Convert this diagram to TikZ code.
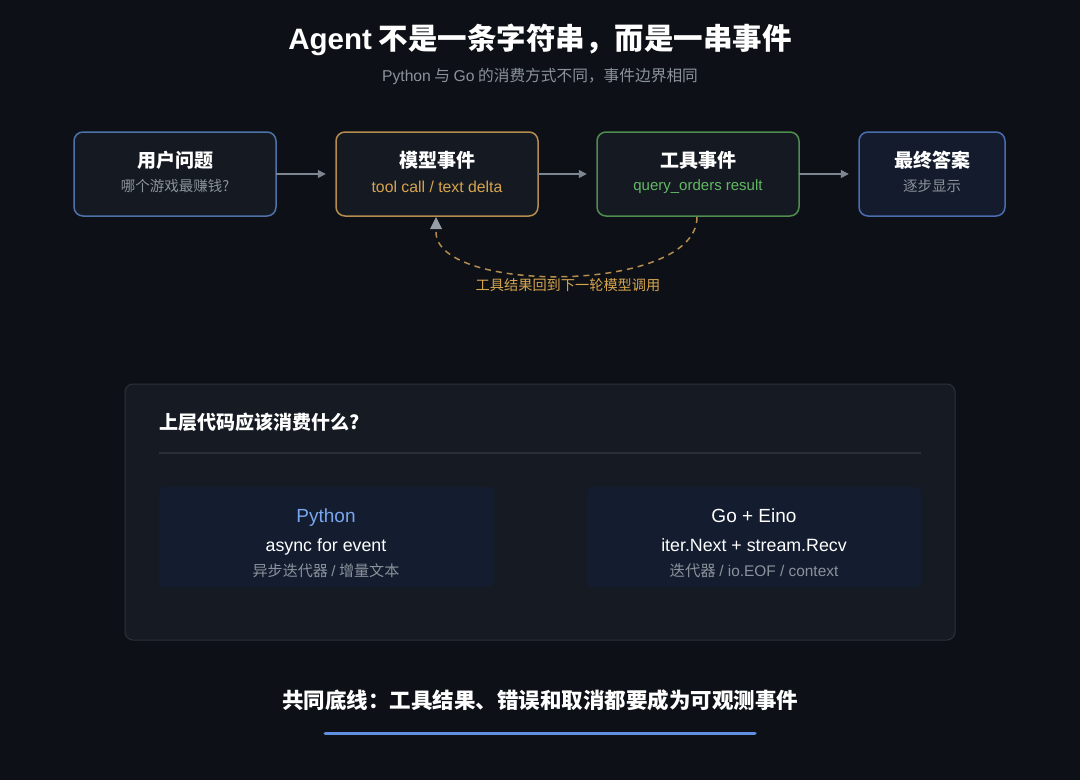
\documentclass[tikz,border=0pt]{standalone}
\usepackage{fontspec}
\setmainfont{Noto Sans CJK SC}
\newfontfamily\lat{Liberation Sans}
\usetikzlibrary{arrows.meta}
\definecolor{bg}{HTML}{0D1117}
\definecolor{boxfill}{HTML}{151A22}
\definecolor{panelfill}{HTML}{161B23}
\definecolor{panelline}{HTML}{2B313A}
\definecolor{subfill}{HTML}{131D2F}
\definecolor{ublue}{HTML}{4E72A8}
\definecolor{gold}{HTML}{B48D4E}
\definecolor{goldtxt}{HTML}{D6A44E}
\definecolor{green}{HTML}{4F8D4F}
\definecolor{greentxt}{HTML}{63B865}
\definecolor{fblue}{HTML}{4A6CB0}
\definecolor{fbluefill}{HTML}{131B2C}
\definecolor{graytxt}{HTML}{8B929B}
\definecolor{arrowgray}{HTML}{7D8590}
\definecolor{pyblue}{HTML}{79A6EE}
\definecolor{linegblue}{HTML}{5E8FE0}
\definecolor{sep}{HTML}{2A2F37}
\tikzset{
  x=1pt, y=-1pt,
  evbox/.style={draw, line width=1.5pt, rounded corners=9pt, fill=boxfill},
  ttl/.style={text=white, font=\fontsize{19}{21}\selectfont\bfseries},
  sub/.style={font=\fontsize{14.5}{16}\selectfont},
  flow/.style={draw=arrowgray, line width=1.3pt, -{Triangle[length=8pt,width=8pt]}},
  langttl/.style={anchor=base, font=\lat\fontsize{19}{21}\selectfont},
  codeline/.style={anchor=base, text=white, font=\lat\fontsize{17.8}{19}\selectfont},
}
\begin{document}
\begin{tikzpicture}
\fill[bg] (0,0) rectangle (1080,780);
\useasboundingbox (0,0) rectangle (1080,780);

\node[text=white, font=\fontsize{29.5}{32}\selectfont\bfseries] (title) at (540,40) {{\lat Agent} 不是一条字符串，而是一串事件};
\node[text=graytxt, font=\fontsize{15.7}{17}\selectfont] (subtitle) at (540,76) {{\lat Python} 与 {\lat Go} 的消费方式不同，事件边界相同};

% event boxes
\path[evbox, draw=ublue] (74,132) rectangle (276,216);
\node (b1) at (175,174) [minimum width=202pt, minimum height=84pt] {};
\node[ttl] (b1t) at (175,160) {用户问题};
\node[sub, text=graytxt] (b1s) at (175,186) {哪个游戏最赚钱?};

\path[evbox, draw=gold] (336,132) rectangle (538,216);
\node (b2) at (437,174) [minimum width=202pt, minimum height=84pt] {};
\node[ttl] (b2t) at (437,160) {模型事件};
\node[sub, text=goldtxt, font=\lat\fontsize{15.8}{17}\selectfont] (b2s) at (437,187) {tool call / text delta};

\path[evbox, draw=green] (597,132) rectangle (799,216);
\node (b3) at (698,174) [minimum width=202pt, minimum height=84pt] {};
\node[ttl] (b3t) at (698,160) {工具事件};
\node[sub, text=greentxt, font=\lat\fontsize{15}{17}\selectfont] (b3s) at (698,187) {query\_orders result};

\path[evbox, draw=fblue, fill=fbluefill] (859,132) rectangle (1005,216);
\node (b4) at (932,174) [minimum width=146pt, minimum height=84pt] {};
\node[ttl] (b4t) at (932,160) {最终答案};
\node[sub, text=graytxt] (b4s) at (932,186) {逐步显示};

\draw[flow] (b1.east) -- ([xshift=-10pt]b2.west);
\draw[flow] (b2.east) -- ([xshift=-10pt]b3.west);
\draw[flow] (b3.east) -- ([xshift=-10pt]b4.west);

% feedback loop
\coordinate (loopstart) at (697,217);
\coordinate (loopend) at (436,218);
\draw[draw=gold, line width=1.5pt, dash pattern=on 6pt off 5pt] (loopstart) .. controls (697,294) and (436,294) .. (436,232);
\fill[arrowgray!80!white] (436,217) -- (442,229) -- (430,229) -- cycle;
\node[text=goldtxt, font=\fontsize{14.2}{16}\selectfont] (looplbl) at (568,285) {工具结果回到下一轮模型调用};

% panel
\path[draw=panelline, line width=1pt, fill=panelfill, rounded corners=8pt] (125,384) rectangle (955,640);
\node[anchor=west, text=white, font=\fontsize{19}{21}\selectfont\bfseries] (ph) at (156,422) {上层代码应该消费什么?};
\draw[sep, line width=2pt] (159,453) -- (921,453);

\path[fill=subfill, rounded corners=4pt] (159,487) rectangle (494,587);
\node[langttl, text=pyblue] (pyt) at (326,522) {Python};
\node[codeline] (pyc) at (326,551) {async for event};
\node[text=graytxt, font=\fontsize{15.1}{17}\selectfont] (pys) at (326,571) {异步迭代器 {\lat /} 增量文本};

\path[fill=subfill, rounded corners=4pt] (587,487) rectangle (921,587);
\node[langttl, text=white] (got) at (754,522) {Go + Eino};
\node[codeline] (goc) at (754,551) {iter.Next + stream.Recv};
\node[text=graytxt, font=\fontsize{15.4}{17}\selectfont] (gos) at (754,571) {迭代器 {\lat / io.EOF / context}};

% bottom
\node[text=white, font=\fontsize{21.5}{24}\selectfont\bfseries] (bottom) at (540,700) {共同底线：工具结果、错误和取消都要成为可观测事件};
\draw[linegblue, line width=3pt, line cap=round] (325,733) -- (755,733);
\end{tikzpicture}
\end{document}
